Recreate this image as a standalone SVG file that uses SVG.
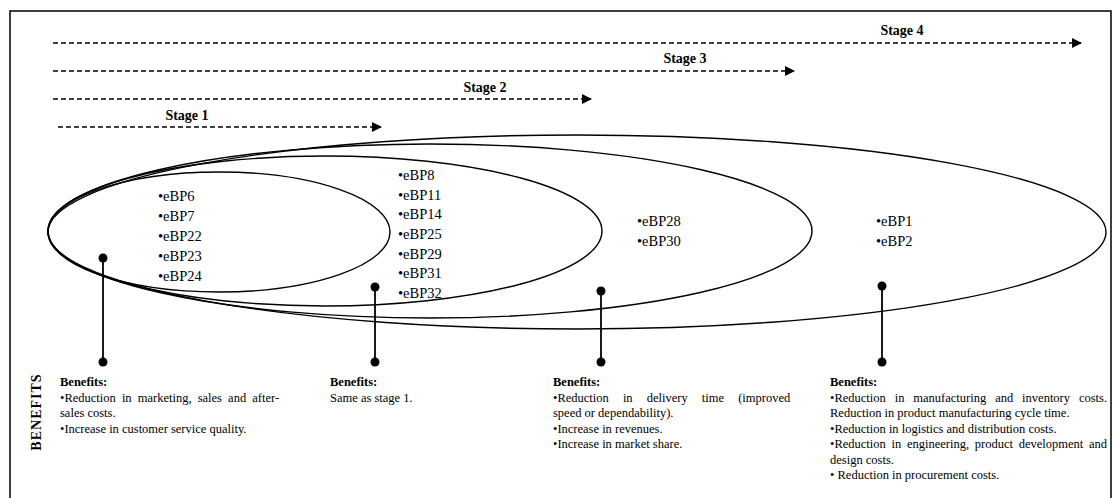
<svg xmlns="http://www.w3.org/2000/svg" width="1117" height="498" viewBox="0 0 1117 498">
  <style>
    .frame { fill: #ffffff; stroke: #000000; stroke-width: 1.5; }
    .stage { fill: none; stroke: #000000; stroke-width: 1.6; stroke-dasharray: 5 3; }
    .stage-label { font-family: "Liberation Serif", "Times New Roman", serif; font-size: 14px; font-weight: bold; fill: #000; }
    .scope { fill: none; stroke: #000000; stroke-width: 1.4; }
    .item { font-family: "Liberation Serif", "Times New Roman", serif; font-size: 14.5px; fill: #000; }
    .pin { stroke: #000000; stroke-width: 1.8; }
    .dot { fill: #000000; }
    .ben-head { font-family: "Liberation Serif", "Times New Roman", serif; font-size: 12.5px; font-weight: bold; fill: #000; }
    .ben { font-family: "Liberation Serif", "Times New Roman", serif; font-size: 12.5px; fill: #000; }
    .axis { font-family: "Liberation Serif", "Times New Roman", serif; font-size: 14px; font-weight: bold; fill: #000; letter-spacing: 1px; }
  </style>
  <defs>
    <marker id="arrowhead" viewBox="0 0 10 10" refX="9" refY="5" markerWidth="10" markerHeight="10" markerUnits="userSpaceOnUse" orient="auto">
      <path d="M0,0 L10,5 L0,10 z" fill="#000"/>
    </marker>
  </defs>

  <!-- open-bottom frame -->
  <path class="frame" d="M10,505 L10,11 L1111,11 L1111,505"/>

  <!-- stage timelines and benefit pins -->
  <g id="connectors">
    <line class="stage" x1="53" y1="43" x2="1081" y2="43" marker-end="url(#arrowhead)"/>
    <line class="stage" x1="53" y1="71" x2="794" y2="71" marker-end="url(#arrowhead)"/>
    <line class="stage" x1="53" y1="99" x2="591" y2="99" marker-end="url(#arrowhead)"/>
    <line class="stage" x1="58" y1="127" x2="381" y2="127" marker-end="url(#arrowhead)"/>
    <line class="pin" x1="103" y1="258" x2="103" y2="362"/>
    <line class="pin" x1="375" y1="287" x2="375" y2="362"/>
    <line class="pin" x1="601" y1="291" x2="601" y2="362"/>
    <line class="pin" x1="882" y1="286" x2="882" y2="362"/>
    <circle class="dot" cx="103" cy="258" r="4.5"/>
    <circle class="dot" cx="103" cy="362" r="4.5"/>
    <circle class="dot" cx="375" cy="287" r="4.5"/>
    <circle class="dot" cx="375" cy="362" r="4.5"/>
    <circle class="dot" cx="601" cy="291" r="4.5"/>
    <circle class="dot" cx="601" cy="362" r="4.5"/>
    <circle class="dot" cx="882" cy="286" r="4.5"/>
    <circle class="dot" cx="882" cy="362" r="4.5"/>
  </g>

  <g id="stage-labels">
    <text class="stage-label" x="902" y="35" text-anchor="middle">Stage 4</text>
    <text class="stage-label" x="685" y="63" text-anchor="middle">Stage 3</text>
    <text class="stage-label" x="485" y="92" text-anchor="middle">Stage 2</text>
    <text class="stage-label" x="187" y="120" text-anchor="middle">Stage 1</text>
  </g>

  <!-- nested scopes, widest first -->
  <g id="stage4">
    <ellipse class="scope" cx="577" cy="232" rx="529" ry="97"/>
    <text class="item" x="876" y="226">•eBP1</text>
    <text class="item" x="876" y="246">•eBP2</text>
  </g>
  <g id="stage3">
    <ellipse class="scope" cx="430" cy="231" rx="382" ry="87"/>
    <text class="item" x="637" y="226">•eBP28</text>
    <text class="item" x="637" y="246">•eBP30</text>
  </g>
  <g id="stage2">
    <ellipse class="scope" cx="325" cy="231" rx="277" ry="75"/>
    <text class="item" x="398" y="180">•eBP8</text>
    <text class="item" x="398" y="200">•eBP11</text>
    <text class="item" x="398" y="219">•eBP14</text>
    <text class="item" x="398" y="239">•eBP25</text>
    <text class="item" x="398" y="259">•eBP29</text>
    <text class="item" x="398" y="278">•eBP31</text>
    <text class="item" x="398" y="298">•eBP32</text>
  </g>
  <g id="stage1">
    <ellipse class="scope" cx="219" cy="232" rx="171" ry="60"/>
    <text class="item" x="158" y="201">•eBP6</text>
    <text class="item" x="158" y="221">•eBP7</text>
    <text class="item" x="158" y="241">•eBP22</text>
    <text class="item" x="158" y="261">•eBP23</text>
    <text class="item" x="158" y="281">•eBP24</text>
  </g>

  <text class="axis" transform="translate(41,412) rotate(-90)" text-anchor="middle">BENEFITS</text>

  <g id="benefits1">
    <text class="ben-head" x="60" y="386">Benefits:</text>
    <text class="ben" x="60" y="401.5" word-spacing="3">•Reduction in marketing, sales and after-</text>
    <text class="ben" x="60" y="417">sales costs.</text>
    <text class="ben" x="60" y="432.5">•Increase in customer service quality.</text>
  </g>
  <g id="benefits2">
    <text class="ben-head" x="330" y="386">Benefits:</text>
    <text class="ben" x="330" y="401.5">Same as stage 1.</text>
  </g>
  <g id="benefits3">
    <text class="ben-head" x="553" y="386">Benefits:</text>
    <text class="ben" x="553" y="401.5" word-spacing="11">•Reduction in delivery time (improved</text>
    <text class="ben" x="553" y="417">speed or dependability).</text>
    <text class="ben" x="553" y="432.5">•Increase in revenues.</text>
    <text class="ben" x="553" y="448">•Increase in market share.</text>
  </g>
  <g id="benefits4">
    <text class="ben-head" x="830" y="386">Benefits:</text>
    <text class="ben" x="830" y="401.5" word-spacing="5.8">•Reduction in manufacturing and inventory costs.</text>
    <text class="ben" x="830" y="417">Reduction in product manufacturing cycle time.</text>
    <text class="ben" x="830" y="432.5">•Reduction in logistics and distribution costs.</text>
    <text class="ben" x="830" y="448" word-spacing="2.6">•Reduction in engineering, product development and</text>
    <text class="ben" x="830" y="463.5">design costs.</text>
    <text class="ben" x="830" y="479">• Reduction in procurement costs.</text>
  </g>
</svg>
